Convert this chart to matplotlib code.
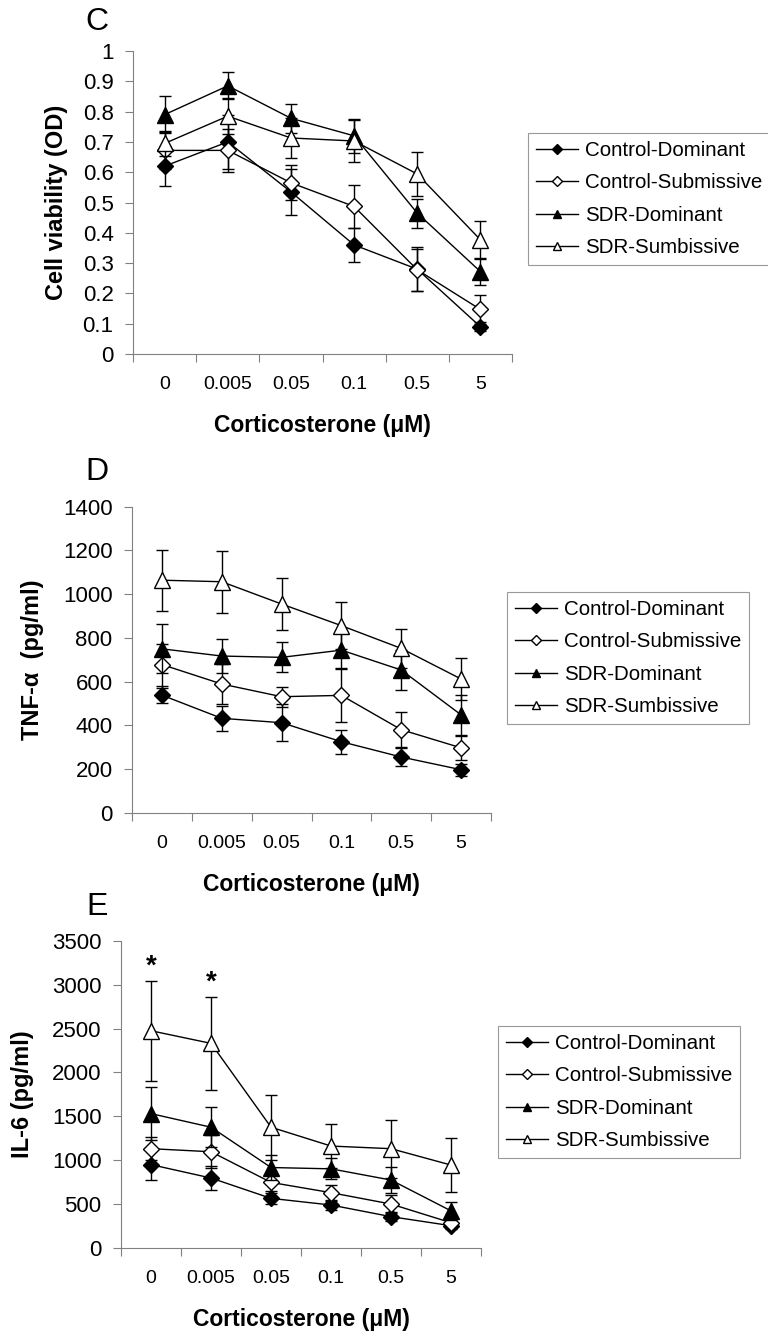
import numpy as np
import matplotlib
matplotlib.use("Agg")
import matplotlib.pyplot as plt

plt.rcParams['font.family'] = ['Liberation Sans', 'DejaVu Sans']

# concentrations (categorical x axis)
conc = ['0', '0.005', '0.05', '0.1', '0.5', '5']
groups = ['Control-Dominant', 'Control-Submissive', 'SDR-Dominant', 'SDR-Sumbissive']

# panel C - cell viability (OD)
via_cd = [0.62, 0.70, 0.535, 0.36, 0.28, 0.09]
via_cd_err = [0.065, 0.09, 0.075, 0.055, 0.072, 0.015]
via_cs = [0.672, 0.672, 0.565, 0.487, 0.278, 0.147]
via_cs_err = [0.06, 0.07, 0.058, 0.07, 0.07, 0.047]
via_sd = [0.79, 0.885, 0.778, 0.72, 0.465, 0.272]
via_sd_err = [0.062, 0.045, 0.048, 0.055, 0.048, 0.045]
via_ss = [0.695, 0.785, 0.713, 0.703, 0.594, 0.377]
via_ss_err = [0.04, 0.06, 0.065, 0.07, 0.074, 0.062]

# panel D - TNF-alpha (pg/ml)
tnf_cd = [538, 432, 412, 325, 255, 197]
tnf_cd_err = [35, 57, 85, 54, 42, 28]
tnf_cs = [678, 589, 531, 537, 380, 297]
tnf_cs_err = [96, 93, 45, 120, 81, 54]
tnf_sd = [750, 717, 711, 744, 653, 448]
tnf_sd_err = [112, 76, 68, 80, 90, 92]
tnf_ss = [1064, 1057, 955, 856, 752, 612]
tnf_ss_err = [140, 142, 117, 106, 88, 96]

# panel E - IL-6 (pg/ml)
il6_cd = [948, 795, 563, 487, 354, 251]
il6_cd_err = [170, 140, 60, 60, 50, 35]
il6_cs = [1130, 1095, 745, 628, 498, 285]
il6_cs_err = [130, 190, 100, 90, 100, 40]
il6_sd = [1530, 1375, 915, 900, 772, 420]
il6_sd_err = [305, 230, 140, 120, 145, 100]
il6_ss = [2476, 2332, 1375, 1160, 1130, 943]
il6_ss_err = [570, 532, 370, 247, 331, 312]
il6_sig = [0, 1]   # positions marked with *

styles = [dict(marker='D', ms=8.5, mfc='black'),
          dict(marker='D', ms=8.5, mfc='white'),
          dict(marker='^', ms=11.5, mfc='black'),
          dict(marker='^', ms=11.5, mfc='white')]

fig = plt.figure(figsize=(7.68, 13.35), dpi=100)

def panel(rect, series, errs, ylim, yticks, ylabel, letter_y, letter, leg_anchor, ylab_x):
    ax = fig.add_axes(rect)
    x = np.arange(len(conc))
    for vals, err, st, lab in zip(series, errs, styles, groups):
        ax.errorbar(x, vals, yerr=err, fmt='none', ecolor='black', elinewidth=1.0,
                    capsize=4, capthick=1.0)
        ax.plot(x, vals, color='black', lw=1.0, mec='black', mew=1.0, label=lab, **st)
    ax.set_xlim(-0.5, len(conc) - 0.5)
    ax.set_ylim(*ylim)
    ax.set_yticks(yticks)
    ax.set_xticks(x)
    ax.set_xticklabels(conc, fontsize=14)
    ax.set_xticks(np.arange(-0.5, len(conc)), minor=True)
    ax.tick_params(axis='x', which='major', length=0, pad=16)
    ax.tick_params(axis='x', which='minor', length=6, color='#808080', width=0.8)
    ax.tick_params(axis='y', length=6, color='#808080', width=0.8, labelsize=16, pad=8)
    for s in ['top', 'right']:
        ax.spines[s].set_visible(False)
    for s in ['left', 'bottom']:
        ax.spines[s].set_color('#808080')
        ax.spines[s].set_linewidth(0.8)
    ax.set_xlabel('Corticosterone (μM)', fontsize=16.5, fontweight='bold', labelpad=15)
    ax.set_ylabel(ylabel, fontsize=17, fontweight='bold')
    ax.yaxis.set_label_coords(ylab_x, 0.5)
    fig.text(97 / 768, letter_y, letter, fontsize=23, ha='center', va='center')
    leg = ax.legend(loc='upper left', bbox_to_anchor=leg_anchor, bbox_transform=fig.transFigure,
                    fontsize=14.8, frameon=True, fancybox=False, edgecolor='#808080',
                    handlelength=2.05, labelspacing=0.66, markerscale=0.55, borderpad=0.38,
                    handletextpad=0.33, borderaxespad=0)
    leg.get_frame().set_linewidth(0.8)
    return ax

ax_c = panel([0.1732, 0.7348, 0.4935, 0.2270],
             [via_cd, via_cs, via_sd, via_ss], [via_cd_err, via_cs_err, via_sd_err, via_ss_err],
             (0, 1), np.arange(0, 1.01, 0.1), 'Cell viability (OD)', 0.9835, 'C',
             (0.6875, 0.9004), -0.171)
ax_c.set_yticklabels(['0'] + ['%.1f' % v for v in np.arange(0.1, 0.95, 0.1)] + ['1'])

panel([0.1719, 0.3912, 0.4674, 0.2292],
      [tnf_cd, tnf_cs, tnf_sd, tnf_ss], [tnf_cd_err, tnf_cs_err, tnf_sd_err, tnf_ss_err],
      (0, 1400), np.arange(0, 1401, 200), 'TNF-α  (pg/ml)', 0.6464, 'D',
      (0.660, 0.5566), -0.245)

ax_e = panel([0.1576, 0.0654, 0.4688, 0.2297],
             [il6_cd, il6_cs, il6_sd, il6_ss], [il6_cd_err, il6_cs_err, il6_sd_err, il6_ss_err],
             (0, 3500), np.arange(0, 3501, 500), 'IL-6 (pg/ml)', 0.3206, 'E',
             (0.6484, 0.2315), -0.242)
for i in il6_sig:
    ax_e.text(i, il6_ss[i] + il6_ss_err[i] + 10, '*', fontsize=20, fontweight='bold',
              ha='center', va='bottom')

fig.savefig('out.png', dpi=100)
